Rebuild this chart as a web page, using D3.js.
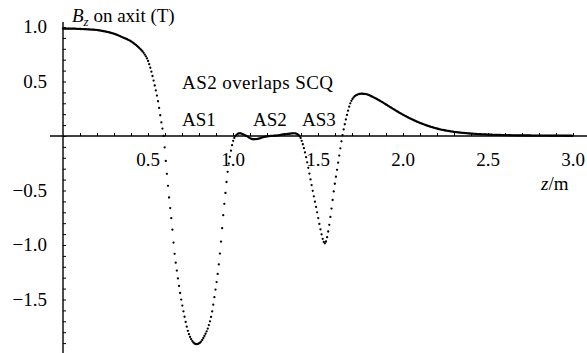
<!DOCTYPE html>
<html><head><meta charset="utf-8">
<script src="https://cdn.jsdelivr.net/npm/d3@7"></script>
<style>
body{margin:0;background:#fff}
svg{display:block}
</style>
</head><body>
<svg id="chart" width="587" height="353" font-family="'Liberation Serif', 'DejaVu Serif', 'Times New Roman', serif" font-size="19"></svg>
<script>
// z position along the axis (m)
const zValues = [0,0.05,0.1,0.15,0.2,0.25,0.3,0.35,0.4,0.45,0.48,0.5,0.52,0.54,0.56,0.58,0.59,0.61,0.625,0.64,0.655,0.67,0.69,0.71,0.735,0.76,0.785,0.81,0.83,0.855,0.875,0.895,0.915,0.93,0.94,0.955,0.97,0.985,1.0,1.02,1.04,1.06,1.08,1.1,1.12,1.15,1.18,1.22,1.26,1.3,1.33,1.36,1.38,1.395,1.415,1.435,1.455,1.475,1.495,1.515,1.535,1.542,1.55,1.565,1.58,1.595,1.61,1.625,1.64,1.655,1.67,1.69,1.71,1.73,1.755,1.78,1.82,1.87,1.93,2.0,2.1,2.2,2.3,2.4,2.5,2.6,2.7,2.8,2.9,3.0];
// Bz on axis (T)
const bzValues = [0.985,0.985,0.982,0.978,0.972,0.958,0.938,0.906,0.868,0.805,0.75,0.69,0.59,0.46,0.31,0.11,0.02,-0.33,-0.58,-0.80,-1.06,-1.24,-1.45,-1.62,-1.79,-1.88,-1.91,-1.89,-1.84,-1.75,-1.63,-1.43,-1.20,-0.96,-0.77,-0.53,-0.31,-0.16,-0.05,0.01,0.025,0.015,0.0,-0.02,-0.03,-0.025,-0.01,0.0,0.005,0.015,0.02,0.025,0.015,-0.01,-0.10,-0.23,-0.39,-0.55,-0.70,-0.86,-0.975,-0.985,-0.95,-0.83,-0.66,-0.48,-0.33,-0.18,-0.03,0.09,0.19,0.30,0.355,0.378,0.388,0.385,0.36,0.318,0.26,0.195,0.12,0.068,0.038,0.022,0.013,0.008,0.005,0.004,0.003,0.002];
const xTickLabels = [0.5,1.0,1.5,2.0,2.5,3.0];
const yTickLabels = [1.0,0.5,-0.5,-1.0,-1.5];
const annotationTexts = ["AS2 overlaps SCQ","AS1","AS2","AS3"];

const FONT = "'Liberation Serif', 'DejaVu Serif', 'Times New Roman', serif";
const svg = d3.select("#chart");
const x = d3.scaleLinear().domain([0,3]).range([63,573]);
const y = d3.scaleLinear().domain([-1.9,1.0]).range([136+1.9*109, 136-1.0*109]);

// axes
const xAx = d3.axisTop(x).tickValues(d3.range(1,31).map(i=>i/10)).tickSize(3).tickFormat("");
const gx = svg.append("g").attr("transform",`translate(0,${y(0)})`).call(xAx);
gx.select(".domain").remove();
gx.selectAll(".tick line").attr("stroke","#000").attr("stroke-width",1);
svg.append("line").attr("x1",50).attr("x2",587).attr("y1",y(0)).attr("y2",y(0))
  .attr("stroke","#000").attr("stroke-width",1.4);

const yAx = d3.axisRight(y).tickValues(d3.range(-19,11).map(i=>i/10)).tickSize(3).tickFormat("");
const gy = svg.append("g").attr("transform",`translate(${x(0)},0)`).call(yAx);
gy.select(".domain").remove();
gy.selectAll(".tick line").attr("stroke","#000").attr("stroke-width",1);
svg.append("line").attr("x1",x(0)).attr("x2",x(0)).attr("y1",22).attr("y2",353)
  .attr("stroke","#000").attr("stroke-width",1.4);

const txt = (sel) => sel.attr("font-family",FONT).attr("font-size",19).attr("fill","#000");
const fmt = v => (v<0?"\u2212":"") + Math.abs(v).toFixed(1);
svg.append("g").selectAll("text").data(xTickLabels).join("text").call(txt)
  .attr("x",d=>x(d)).attr("y",y(0)+30).attr("text-anchor","middle").text(fmt);
svg.append("g").selectAll("text").data(yTickLabels).join("text").call(txt)
  .attr("x",47).attr("y",d=>y(d)).attr("dy","0.33em").attr("text-anchor","end").text(fmt);

// title and axis name
const t = svg.append("text").call(txt).attr("x",72).attr("y",22);
t.append("tspan").attr("font-style","italic").text("B");
t.append("tspan").attr("font-style","italic").attr("font-size","13").attr("dy",4).text("z");
t.append("tspan").attr("dy",-4).text(" on axit (T)");
const zm = svg.append("text").call(txt).attr("x",541).attr("y",190);
zm.append("tspan").attr("font-style","italic").text("z");
zm.append("tspan").text("/m");

// annotations
svg.append("text").call(txt).attr("x",182).attr("y",89)
  .attr("textLength",151).attr("lengthAdjust","spacing").text(annotationTexts[0]);
svg.append("text").call(txt).attr("x",182).attr("y",126).text(annotationTexts[1]);
svg.append("text").call(txt).attr("x",253).attr("y",126).text(annotationTexts[2]);
svg.append("text").call(txt).attr("x",302).attr("y",126).text(annotationTexts[3]);

// curve: smooth line through data, rendered as densely sampled dots
const pts = zValues.map((z,i)=>[z,bzValues[i]]);
const line = d3.line().x(d=>x(d[0])).y(d=>y(d[1])).curve(d3.curveMonotoneX);
const path = svg.append("path").attr("d",line(pts)).attr("fill","none").attr("stroke","none");
const node = path.node();
const total = node.getTotalLength();
const dots = [];
const step = x(0.0065)-x(0);
let lo = 0;
for (let tx = x(0); tx <= x(3)+0.01; tx += step) {
  let a = lo, b = total;
  for (let k=0;k<30;k++){ const m=(a+b)/2; if (node.getPointAtLength(m).x < tx) a=m; else b=m; }
  lo = a;
  const p = node.getPointAtLength(b);
  dots.push([p.x,p.y]);
}
svg.append("g").selectAll("circle").data(dots).join("circle")
  .attr("cx",d=>d[0]).attr("cy",d=>d[1]).attr("r",1.15).attr("fill","#000");
</script>
</body></html>
